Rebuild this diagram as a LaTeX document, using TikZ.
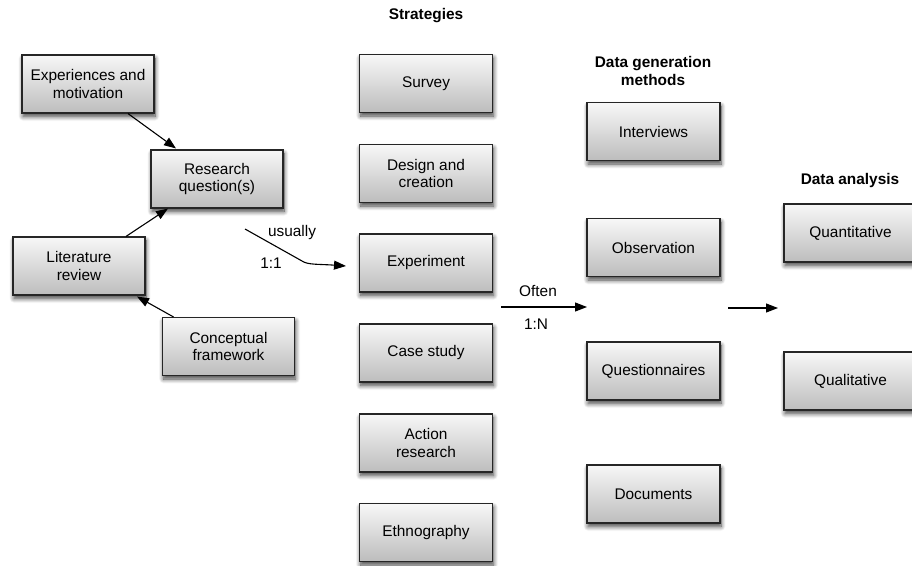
\documentclass[tikz,border=0pt]{standalone}
\usepackage{fontspec}
\setmainfont{Liberation Sans}
\usetikzlibrary{arrows.meta,shadows.blur,calc}

\tikzset{
  stepbox/.style={draw=black!85, line width=1.1pt, rectangle,
    top color=black!3, bottom color=black!26,
    minimum width=133pt, minimum height=58pt, inner sep=2pt,
    align=center, font=\fontsize{15.4}{17.7}\selectfont,
    blur shadow={shadow xshift=1pt, shadow yshift=-3.5pt,
      shadow blur radius=4.5pt, shadow blur steps=10, shadow opacity=75}},
  header/.style={align=center, font=\fontsize{15.4}{17.7}\selectfont\bfseries},
  lbl/.style={font=\fontsize{15.4}{17.7}\selectfont},
  arr/.style={line width=1.1pt, -{Triangle[length=12pt,width=9pt]}}
}

\begin{document}
\begin{tikzpicture}[x=1pt,y=-1pt]
\useasboundingbox (0,0) rectangle (912,565);

% headers
\node[header] (hstrat) at (426,16) {Strategies};
\node[header] (hgen) at (653,71) {Data generation\\methods};
\node[header] (hana) at (850,181) {Data analysis};

% research question cluster
\node[stepbox, minimum width=132pt] (exp) at (88,84) {Experiences and\\motivation};
\node[stepbox, minimum width=132pt] (rq) at (217,179) {Research\\question(s)};
\node[stepbox, minimum width=132pt] (lit) at (79,266) {Literature\\review};
\node[stepbox, minimum width=132pt] (conc) at (228.5,346.5) {Conceptual\\framework};

% strategies
\node[stepbox] (survey) at (426,83.5) {Survey};
\node[stepbox] (design) at (426,173.5) {Design and\\creation};
\node[stepbox] (exper) at (426,263) {Experiment};
\node[stepbox] (case) at (426,353) {Case study};
\node[stepbox] (action) at (426,443) {Action\\research};
\node[stepbox] (ethno) at (426,532.5) {Ethnography};

% data generation methods
\node[stepbox] (interv) at (653.5,131.5) {Interviews};
\node[stepbox] (observ) at (653.5,247.5) {Observation};
\node[stepbox] (quest) at (653.5,371) {Questionnaires};
\node[stepbox] (docs) at (653.5,494) {Documents};

% data analysis
\node[stepbox] (quant) at (850.5,233) {Quantitative};
\node[stepbox] (qual) at (850.5,381) {Qualitative};

% connectors between the left-hand boxes
\draw[arr] ($(exp.south)+(40,0)$) -- ($(rq.north)+(-41,-1)$);
\draw[arr] ($(lit.north)+(47,0)$) -- ($(rq.south)+(-49,0)$);
\draw[arr] ($(conc.north)+(-55,0)$) -- ($(lit.south)+(58,1)$);

% "usually 1:1" connector towards the strategies
\coordinate (u0) at (245,229);
\coordinate (u1) at (302,261);
\coordinate (u2) at (346,266);
\draw[arr] (u0) -- (u1) .. controls (308,265) and (318,264) .. (u2);
\node[lbl] (usually) at (292,233) {usually};
\node[lbl] (oneone) at (271,263) {1:1};

% "Often 1:N" connector towards the data generation methods
\coordinate (o0) at (501,307);
\coordinate (o1) at (587,307);
\draw[arr] (o0) -- (o1);
\node[lbl] (often) at (538,291) {Often};
\node[lbl] (onen) at (536,324) {1:N};

% connector towards the data analysis
\coordinate (a0) at (728,308);
\coordinate (a1) at (778,308);
\draw[arr] (a0) -- (a1);
\end{tikzpicture}
\end{document}
